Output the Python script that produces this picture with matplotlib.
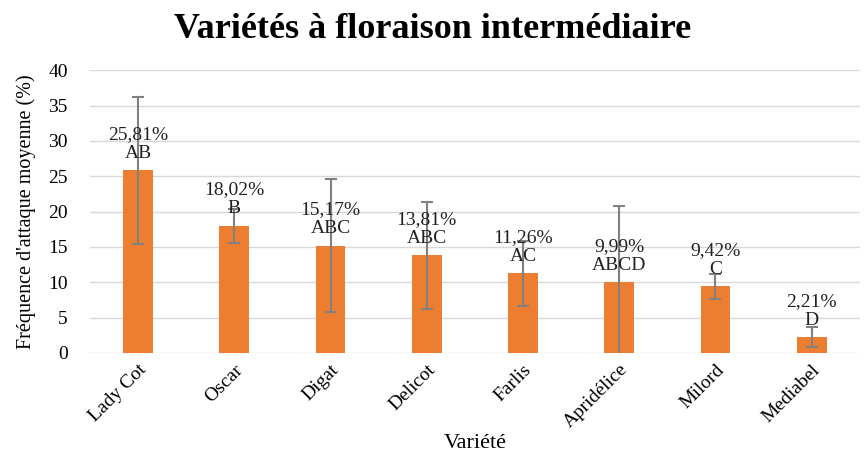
import numpy as np
import matplotlib.pyplot as plt

# data
varietes = ['Lady Cot', 'Oscar', 'Digat', 'Delicot', 'Farlis',
            'Aprid\u00e9lice', 'Milord', 'Mediabel']
frequence = [25.81, 18.02, 15.17, 13.81, 11.26, 9.99, 9.42, 2.21]
erreur = [10.4, 2.4, 9.4, 7.6, 4.6, 10.8, 1.8, 1.4]
groupes = ['AB', 'B', 'ABC', 'ABC', 'AC', 'ABCD', 'C', 'D']

plt.rcParams['font.family'] = ['Liberation Serif', 'DejaVu Serif']

fig = plt.figure(figsize=(8.65, 4.53), dpi=100)
ax = fig.add_axes([0.104, 0.221, 0.89, 0.624])

x = np.arange(len(varietes))
ax.bar(x, frequence, width=0.31, color='#ED7D31', zorder=2)
ax.errorbar(x, frequence, yerr=erreur, fmt='none', ecolor='#808080',
            elinewidth=1.5, capsize=4.5, capthick=1.5, zorder=3)

# value + letter labels above each bar
for xi, v, g in zip(x, frequence, groupes):
    ax.annotate(f'{v:.2f}%'.replace('.', ',') + '\n' + g, (xi, v),
                xytext=(0, 6), textcoords='offset points',
                ha='center', va='bottom', fontsize=14,
                linespacing=1.15, color='#222222', zorder=4)

ax.set_ylim(0, 40)
ax.set_xlim(-0.5, len(varietes) - 0.5)
ax.set_yticks(np.arange(0, 41, 5))
ax.yaxis.grid(True, color='#d9d9d9', linewidth=1, zorder=0)
ax.set_axisbelow(True)
for s in ax.spines.values():
    s.set_visible(False)
ax.tick_params(axis='both', length=0, labelsize=14)
ax.tick_params(axis='y', pad=16)
ax.tick_params(axis='x', pad=6)
ax.set_xticks(x)
ax.set_xticklabels(varietes, rotation=45, ha='right', rotation_mode='anchor')

ax.set_ylabel("Fr\u00e9quence d'attaque moyenne (%)", fontsize=14.5, labelpad=9)
ax.set_xlabel('Vari\u00e9t\u00e9', fontsize=16, labelpad=2)

fig.text(0.5, 0.935, 'Vari\u00e9t\u00e9s \u00e0 floraison interm\u00e9diaire',
         ha='center', va='center', fontsize=26, fontweight='bold')

fig.savefig('out.png', dpi=100)
